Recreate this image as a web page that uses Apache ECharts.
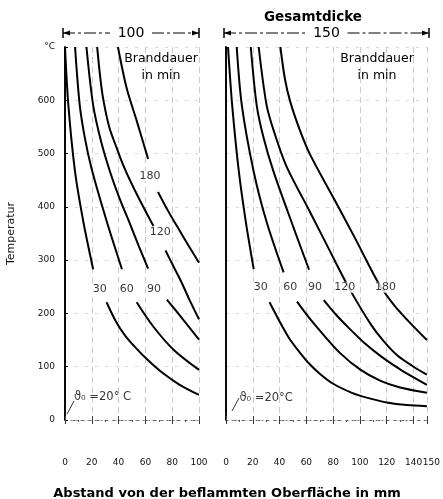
<!DOCTYPE html>
<html>
<head>
<meta charset="utf-8">
<script src="https://cdn.jsdelivr.net/npm/echarts@6/dist/echarts.min.js"></script>
<style>
html, body { margin: 0; padding: 0; background: #fff; }
#chart { width: 443px; height: 499px; }
</style>
</head>
<body>
<div id="chart"></div>
<script>
/* Branddauer in min */
const branddauer = ['30', '60', '90', '120', '180'];

/* Gesamtdicke 100 mm -- [Abstand mm, Temperatur °C], '-' = Lücke für Beschriftung */
const d100_30  = [[0,700],[2.5,591],[7.5,466],[13.7,372],[21,283],'-',[31,221],[38,185],[45,158],[53,135],[62,112],[72,90],[85,67],[100,47]];
const d100_60  = [[7.5,700],[11,591],[15,527],[20,470],[31,374],[42.5,283],'-',[53.5,221],[66,175],[81,132],[100,94]];
const d100_90  = [[16,700],[21,591],[27,522],[33.6,466],[41,414],[48.5,368],[55,327],[62,284],'-',[76,226],[88,189],[100,151]];
const d100_120 = [[24,700],[26,650],[28.4,604],[33,550],[38.8,509],[43.5,478],[50,442],[58,402],[66,364],'-',[75,318],[81,288],[87,258],[93,225],[100,189]];
const d100_180 = [[39.5,700],[46,623],[53.7,560],[62,490],'-',[69.4,428],[77,392],[84,362],[92,328],[100,295]];

/* Gesamtdicke 150 mm */
const d150_30  = [[1.5,700],[4.6,591],[9.6,466],[14.8,372],[20.7,283],'-',[32.5,221],[40,185],[47,154],[55,127],[62,106],[70,87],[80,68],[94,51],[105,42],[120,33],[135,28],[150,26]];
const d150_60  = [[8,700],[11.8,591],[20.7,466],[30.3,372],[43,277],'-',[53,222],[62,192],[72,162],[85,126],[100,95],[115,74],[130,61],[150,51]];
const d150_90  = [[18.5,700],[22.9,591],[28,530],[35.5,466],[50,364],[62,282],'-',[73,225],[82,198],[92,172],[104,143],[116,119],[130,95],[140,80],[150,66]];
const d150_120 = [[24.4,700],[30.3,591],[36,540],[45,477],[62.8,390],[78,315],[92,247],[108,180],[118,147],[128,121],[140,100],[150,85]];
const d150_180 = [[40.6,700],[44,640],[48,597],[55,545],[62.8,498],[80,418],[97,338],[114,256],[125,217],[136,186],[150,150]];

/* Lage der Kurvenbeschriftung [mm, °C] */
const lage100 = [[26,245],[46,245],[66.4,245],[71,353],[63.4,458]];
const lage150 = [[26,249],[48,249],[66.5,249],[88.7,249],[119,249]];
const lageAnfang = [[28,43], [30,41]];
const anfangText = ['ϑ₀ =20° C', 'ϑ₀ =20°C'];

/* Achsen */
const dicken = [100, 150];
const xTicks100 = [0, 20, 40, 60, 80, 100];
const xTicks150 = [0, 20, 40, 60, 80, 100, 120, 140, 150];
const tempMax = 700;

const chart = echarts.init(document.getElementById('chart'));

const G = [
	{ left: 65, top: 47, width: 134, height: 373 },
	{ left: 226, top: 47, width: 203, height: 373 }
];
const schrift = 'DejaVu Sans';
const xTicks = [xTicks100, xTicks150];
const tickText = { fontFamily: schrift, fontSize: 9, color: '#111' };

function xAchsen(gi) {
	const ende = dicken[gi];
	return [
		{
			type: 'value', gridIndex: gi, min: 0, max: ende, interval: 20,
			position: 'bottom', offset: 27,
			axisLine: { lineStyle: { color: '#777', type: [1, 5], width: 1 } },
			axisTick: { show: true, length: 4, customValues: xTicks[gi], lineStyle: { color: '#333' } },
			minorTick: { show: true, splitNumber: 2, length: 2, lineStyle: { color: '#555' } },
			axisLabel: Object.assign({
				margin: 11,
				// der Endwert 150 wird von der Hilfsachse geschrieben
				customValues: gi === 1 ? xTicks[gi].slice(0, -1) : xTicks[gi],
				showMinLabel: true, showMaxLabel: true
			}, tickText),
			splitLine: { show: true, lineStyle: { color: '#bdbdbd', type: [6, 4], width: 0.8 } }
		},
		{
			type: 'value', gridIndex: gi, min: 0, max: ende, interval: 20,
			position: 'bottom', offset: 0,
			axisLine: { lineStyle: { color: '#666', type: [2, 6], width: 1 } },
			axisTick: { show: true, inside: true, length: 4, lineStyle: { color: '#444' } },
			axisLabel: { show: false },
			splitLine: { show: false }
		}
	];
}

/* Hilfsachse nur für die Beschriftung 150 (neben 140) */
const hilfsachse = {
	type: 'value', gridIndex: 1, min: 0, max: dicken[1],
	position: 'bottom', offset: 27,
	axisLine: { show: false }, axisTick: { show: false }, splitLine: { show: false },
	axisLabel: Object.assign({
		margin: 11, customValues: [dicken[1]], showMaxLabel: true,
		padding: [0, 0, 0, 9]
	}, tickText)
};

function yAchsen(gi) {
	return [
		{
			type: 'value', gridIndex: gi, min: 0, max: tempMax, interval: 100,
			position: 'left',
			name: gi === 0 ? 'Temperatur' : '',
			nameLocation: 'middle', nameGap: 48, nameRotate: 90,
			nameTextStyle: { fontFamily: schrift, fontSize: 11, color: '#111' },
			axisLine: { show: true, lineStyle: { color: '#000', width: 1.6 } },
			axisTick: { show: gi === 0, inside: true, length: 3, lineStyle: { color: '#000' } },
			axisLabel: Object.assign({
				show: gi === 0, margin: 10,
				formatter: v => (v === tempMax ? '°C' : v)
			}, tickText),
			splitLine: { show: true, lineStyle: { color: '#cfcfcf', type: [3, 7], width: 0.8 } }
		},
		{
			type: 'value', gridIndex: gi, min: 0, max: tempMax, interval: 100,
			position: 'right',
			axisLine: { show: true, lineStyle: { color: '#000', width: 1.6 } },
			axisTick: { show: false }, axisLabel: { show: false }, splitLine: { show: false }
		}
	];
}

const kurven = [
	[d100_30, d100_60, d100_90, d100_120, d100_180],
	[d150_30, d150_60, d150_90, d150_120, d150_180]
];
const lagen = [lage100, lage150];

const series = [];
kurven.forEach(function (gruppe, gi) {
	gruppe.forEach(function (daten, k) {
		series.push({
			name: dicken[gi] + ' / ' + branddauer[k],
			type: 'line',
			xAxisIndex: gi * 2, yAxisIndex: gi * 2,
			data: daten,
			smooth: 0.3,
			showSymbol: false,
			connectNulls: false,
			lineStyle: { color: '#000', width: 2 },
			z: 3
		});
	});
	// Kurvenbeschriftung
	series.push({
		type: 'scatter',
		xAxisIndex: gi * 2, yAxisIndex: gi * 2,
		symbolSize: 0,
		data: lagen[gi].map((p, k) => ({ value: p, name: branddauer[k] })),
		label: {
			show: true, position: 'inside', formatter: '{b}',
			fontFamily: schrift, fontSize: 11, color: '#000',
			backgroundColor: '#fff', padding: [0, 1]
		},
		z: 5
	});
	// Anfangstemperatur
	series.push({
		type: 'scatter',
		xAxisIndex: gi * 2, yAxisIndex: gi * 2,
		symbolSize: 0,
		data: [{ value: lageAnfang[gi], name: anfangText[gi] }],
		label: {
			show: true, position: 'inside', formatter: '{b}',
			fontFamily: schrift, fontSize: 11.5, color: '#000'
		},
		z: 5
	});
});

/* Maßlinie über einem Diagramm */
function masslinie(g, text) {
	const y = 33, x0 = g.left - 2, x1 = g.left + g.width, xm = (x0 + x1) / 2;
	const stil = { stroke: '#000', lineWidth: 1, lineDash: [12, 3, 3, 3] };
	return [
		{ type: 'line', shape: { x1: x0, y1: y, x2: xm - 21, y2: y }, style: stil },
		{ type: 'line', shape: { x1: xm + 21, y1: y, x2: x1, y2: y }, style: stil },
		{ type: 'line', shape: { x1: x0, y1: y - 5, x2: x0, y2: y + 5 }, style: { stroke: '#000', lineWidth: 1.5 } },
		{ type: 'line', shape: { x1: x1, y1: y - 5, x2: x1, y2: y + 5 }, style: { stroke: '#000', lineWidth: 1.5 } },
		{ type: 'polygon', shape: { points: [[x0, y], [x0 + 7, y - 2.5], [x0 + 7, y + 2.5]] }, style: { fill: '#000' } },
		{ type: 'polygon', shape: { points: [[x1, y], [x1 - 7, y - 2.5], [x1 - 7, y + 2.5]] }, style: { fill: '#000' } },
		{ type: 'text', x: xm, y: y, style: { text: text, fontFamily: schrift, fontSize: 14, fill: '#000', align: 'center', verticalAlign: 'middle' } }
	];
}

const option = {
	backgroundColor: '#fff',
	animation: false,
	title: [
		{
			text: 'Gesamtdicke', left: 308, top: 5, textAlign: 'center',
			textStyle: { fontFamily: schrift, fontSize: 13.5, fontWeight: 'bold', color: '#000' }
		},
		{
			text: 'Abstand von der beflammten Oberfläche in mm', left: 222, top: 482, textAlign: 'center',
			textStyle: { fontFamily: schrift, fontSize: 13, fontWeight: 'bold', color: '#000' }
		}
	],
	grid: G,
	xAxis: xAchsen(0).concat(xAchsen(1)).concat([hilfsachse]),
	yAxis: yAchsen(0).concat(yAchsen(1)),
	series: series,
	graphic: masslinie(G[0], '100').concat(masslinie(G[1], '150')).concat([
		{ type: 'text', x: 161, y: 67, style: { text: 'Branddauer\nin min', fontFamily: schrift, fontSize: 12.5, lineHeight: 17, fill: '#000', align: 'center', verticalAlign: 'middle' }, z: 10 },
		{ type: 'text', x: 377, y: 67, style: { text: 'Branddauer\nin min', fontFamily: schrift, fontSize: 12.5, lineHeight: 17, fill: '#000', align: 'center', verticalAlign: 'middle' }, z: 10 },
		{ type: 'line', shape: { x1: 74, y1: 401, x2: 67, y2: 414 }, style: { stroke: '#000', lineWidth: 0.8 } },
		{ type: 'line', shape: { x1: 239, y1: 398, x2: 232, y2: 411 }, style: { stroke: '#000', lineWidth: 0.8 } }
	])
};

chart.setOption(option);
</script>
</body>
</html>
